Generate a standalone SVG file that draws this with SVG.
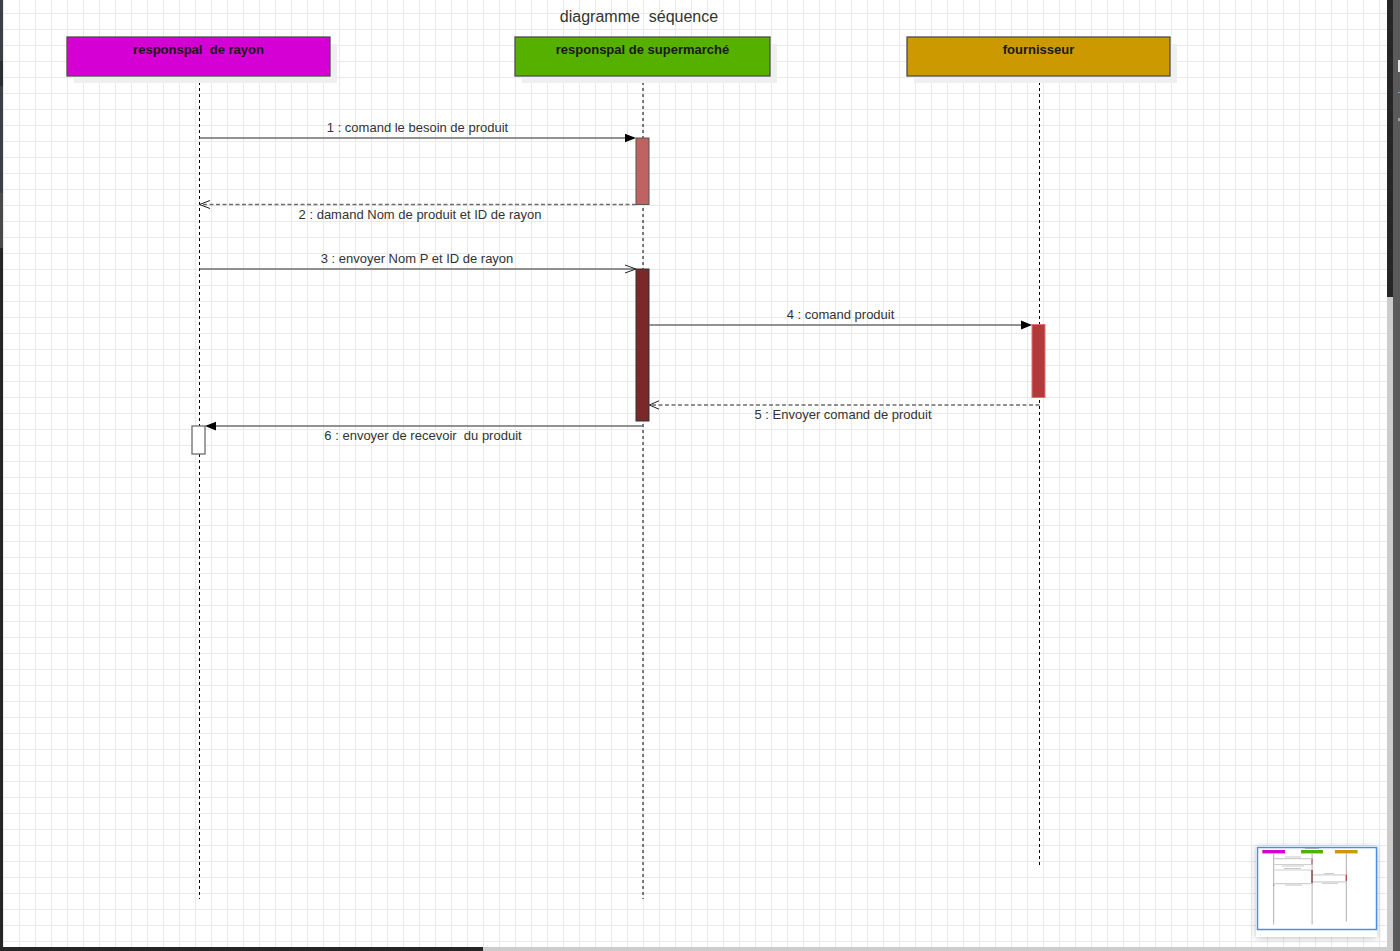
<svg xmlns="http://www.w3.org/2000/svg" width="1400" height="951" viewBox="0 0 1400 951">
  <style>
    .actor { stroke: #4d4d4d; stroke-width: 1.3; }
    .shadow { fill: #efefef; }
    .atext { font-family: "Liberation Sans", Arial, sans-serif; font-size: 13px; font-weight: bold; fill: #1a1a1a; text-anchor: middle; white-space: pre; }
    .title { font-family: "Liberation Sans", Arial, sans-serif; font-size: 16px; fill: #333333; text-anchor: middle; white-space: pre; }
    .mtext { font-family: "Liberation Sans", Arial, sans-serif; font-size: 13px; fill: #333333; text-anchor: middle; white-space: pre; }
    .life { stroke: #000000; stroke-width: 1; stroke-dasharray: 3 3; fill: none; }
    .msg { stroke: #6e6e6e; stroke-width: 1.4; fill: none; }
    .ret { stroke: #6e6e6e; stroke-width: 1.4; stroke-dasharray: 4 2.5; fill: none; }
    .open { stroke: #222222; stroke-width: 1; fill: none; }
    .filled { fill: #000000; stroke: none; }
  </style>
  <defs>
    <pattern id="grid" x="3" y="13" width="16" height="16" patternUnits="userSpaceOnUse">
      <path d="M0 0.5 H16 M0.5 0 V16" stroke="#e9e9e9" stroke-width="1" fill="none"/>
    </pattern>
    <filter id="blur" x="-20%" y="-20%" width="140%" height="140%">
      <feGaussianBlur stdDeviation="3"/>
    </filter>
  </defs>

  <!-- canvas -->
  <rect x="0" y="0" width="1400" height="951" fill="#ffffff"/>
  <rect x="3" y="0" width="1384" height="947" fill="url(#grid)"/>

  <!-- editor chrome -->
  <g id="chrome">
    <rect x="0" y="0" width="3" height="61" fill="#3a4045"/>
    <rect x="0" y="61" width="3" height="25" fill="#2a2e30"/>
    <rect x="0" y="86" width="3" height="107" fill="#3a4045"/>
    <rect x="0" y="193" width="3" height="55" fill="#4a4a4a"/>
    <rect x="0" y="248" width="3" height="703" fill="#262626"/>
    <rect x="1387" y="0" width="6" height="297" fill="#262626"/>
    <rect x="1387" y="297" width="6" height="654" fill="#cccccc"/>
    <rect x="1393" y="0" width="7" height="951" fill="#5a5a5a"/>
    <rect x="1398" y="60" width="2" height="12" fill="#e6e6e6"/>
    <rect x="1398" y="92" width="2" height="1" fill="#6fa8dc"/>
    <rect x="1398" y="118" width="2" height="3" fill="#a0a0a0"/>
    <rect x="3" y="947" width="480" height="4" fill="#262626"/>
    <rect x="483" y="947" width="904" height="4" fill="#cccccc"/>
  </g>

  <text class="title" x="639" y="22">diagramme  séquence</text>

  <!-- lifelines -->
  <g id="lifelines">
    <line class="life" x1="199.5" y1="76" x2="199.5" y2="899"/>
    <line class="life" x1="643" y1="76" x2="643" y2="899"/>
    <line class="life" x1="1039.5" y1="76" x2="1039.5" y2="865"/>
  </g>

  <!-- actors -->
  <g id="actor-rayon">
    <rect class="shadow" x="74" y="44" width="263" height="39"/>
    <rect class="actor" x="67" y="37" width="263" height="39" fill="#d400d4"/>
    <text class="atext" x="198.5" y="54">responspal  de rayon</text>
  </g>
  <g id="actor-supermarche">
    <rect class="shadow" x="522" y="44" width="255" height="39"/>
    <rect class="actor" x="515" y="37" width="255" height="39" fill="#55b000"/>
    <text class="atext" x="642.5" y="54">responspal de supermarché</text>
  </g>
  <g id="actor-fournisseur">
    <rect class="shadow" x="914" y="44" width="263" height="39"/>
    <rect class="actor" x="907" y="37" width="263" height="39" fill="#cc9900"/>
    <text class="atext" x="1038.5" y="54">fournisseur</text>
  </g>

  <!-- activations -->
  <g id="act1"><rect x="636" y="138" width="13" height="66.5" fill="#be6262" stroke="#555555" stroke-width="1"/></g>
  <g id="act2"><rect x="636" y="269" width="13" height="152" fill="#7a2828" stroke="#333333" stroke-width="1"/></g>
  <g id="act3"><rect x="1032" y="324.5" width="13" height="73" fill="#b33a3a" stroke="#e07070" stroke-width="1"/></g>
  <g id="act4"><rect x="192" y="426" width="13" height="28" fill="#ffffff" stroke="#6e6e6e" stroke-width="1.3"/></g>

  <!-- connectors -->
  <g id="connectors">
    <g id="m1">
      <line class="msg" x1="199.5" y1="138" x2="626" y2="138"/>
      <polygon class="filled" points="636,138 625,133.8 625,142.2"/>
    </g>
    <g id="m2">
      <line class="ret" x1="636" y1="204.5" x2="200" y2="204.5"/>
      <polyline class="open" points="210,200.5 199.5,204.5 210,208.5"/>
    </g>
    <g id="m3">
      <line class="msg" x1="199.5" y1="269" x2="635" y2="269"/>
      <polyline class="open" points="625,265 636,269 625,273"/>
    </g>
    <g id="m4">
      <line class="msg" x1="649" y1="325" x2="1022" y2="325"/>
      <polygon class="filled" points="1032,325 1021,320.5 1021,329.5"/>
    </g>
    <g id="m5">
      <line class="ret" x1="1039.5" y1="405" x2="650" y2="405"/>
      <polyline class="open" points="659,400.8 649.3,405 659,409.2"/>
    </g>
    <g id="m6">
      <line class="msg" x1="643" y1="426" x2="214" y2="426"/>
      <polygon class="filled" points="205,426 216,421.7 216,430.5"/>
    </g>
  </g>

  <!-- message labels -->
  <g id="labels">
    <text class="mtext" x="417.5" y="132">1 : comand le besoin de produit</text>
    <text class="mtext" x="420" y="219">2 : damand Nom de produit et ID de rayon</text>
    <text class="mtext" x="417" y="263">3 : envoyer Nom P et ID de rayon</text>
    <text class="mtext" x="840.5" y="319">4 : comand produit</text>
    <text class="mtext" x="843" y="419">5 : Envoyer comand de produit</text>
    <text class="mtext" x="423" y="440">6 : envoyer de recevoir  du produit</text>
  </g>

  <!-- outline / minimap -->
  <g id="minimap">
    <rect x="1256" y="847" width="121" height="91" fill="#000000" opacity="0.25" filter="url(#blur)"/>
    <rect x="1256" y="846" width="121" height="91" fill="#ffffff"/>
    <rect x="1257.5" y="847.5" width="119" height="82" fill="none" stroke="#4a90e2" stroke-width="1.5"/>
    <rect x="1305" y="848" width="14" height="1" fill="#9fb0c8"/>
    <rect x="1262.3" y="850" width="22.7" height="3.4" fill="#d400d4"/>
    <rect x="1301" y="850" width="22" height="3.4" fill="#55b000"/>
    <rect x="1334.9" y="850" width="22.7" height="3.4" fill="#cc9900"/>
    <g stroke="#b0b0b0" stroke-width="1" fill="none">
      <line x1="1273.7" y1="853.4" x2="1273.7" y2="924.5"/>
      <line x1="1312.1" y1="853.4" x2="1312.1" y2="924.5"/>
      <line x1="1346.3" y1="853.4" x2="1346.3" y2="921.5"/>
    </g>
    <g stroke="#d0d0d0" stroke-width="1.2" fill="none">
      <line x1="1273.7" y1="858.7" x2="1311.4" y2="858.7"/>
      <line x1="1273.7" y1="864.5" x2="1311.4" y2="864.5"/>
      <line x1="1273.7" y1="870" x2="1311.4" y2="870"/>
      <line x1="1312.5" y1="874.9" x2="1345.7" y2="874.9"/>
      <line x1="1312.5" y1="881.8" x2="1346.3" y2="881.8"/>
      <line x1="1274.8" y1="883.6" x2="1312.1" y2="883.6"/>
    </g>
    <g fill="#c8c8c8">
      <rect x="1285" y="856.5" width="16" height="1"/>
      <rect x="1282" y="865.5" width="22" height="1"/>
      <rect x="1284" y="868" width="17" height="1"/>
      <rect x="1324" y="873" width="10" height="1"/>
      <rect x="1322" y="882.8" width="16" height="1"/>
      <rect x="1285" y="884.6" width="17" height="1"/>
    </g>
    <rect x="1311.4" y="858.7" width="1.2" height="5.8" fill="#be6262"/>
    <rect x="1311.4" y="870" width="1.2" height="13.1" fill="#7a2828"/>
    <rect x="1345.7" y="874.8" width="1.2" height="6.3" fill="#b33a3a"/>
    <rect x="1273.1" y="883.6" width="1.2" height="2.4" fill="#999999"/>
  </g>
</svg>
